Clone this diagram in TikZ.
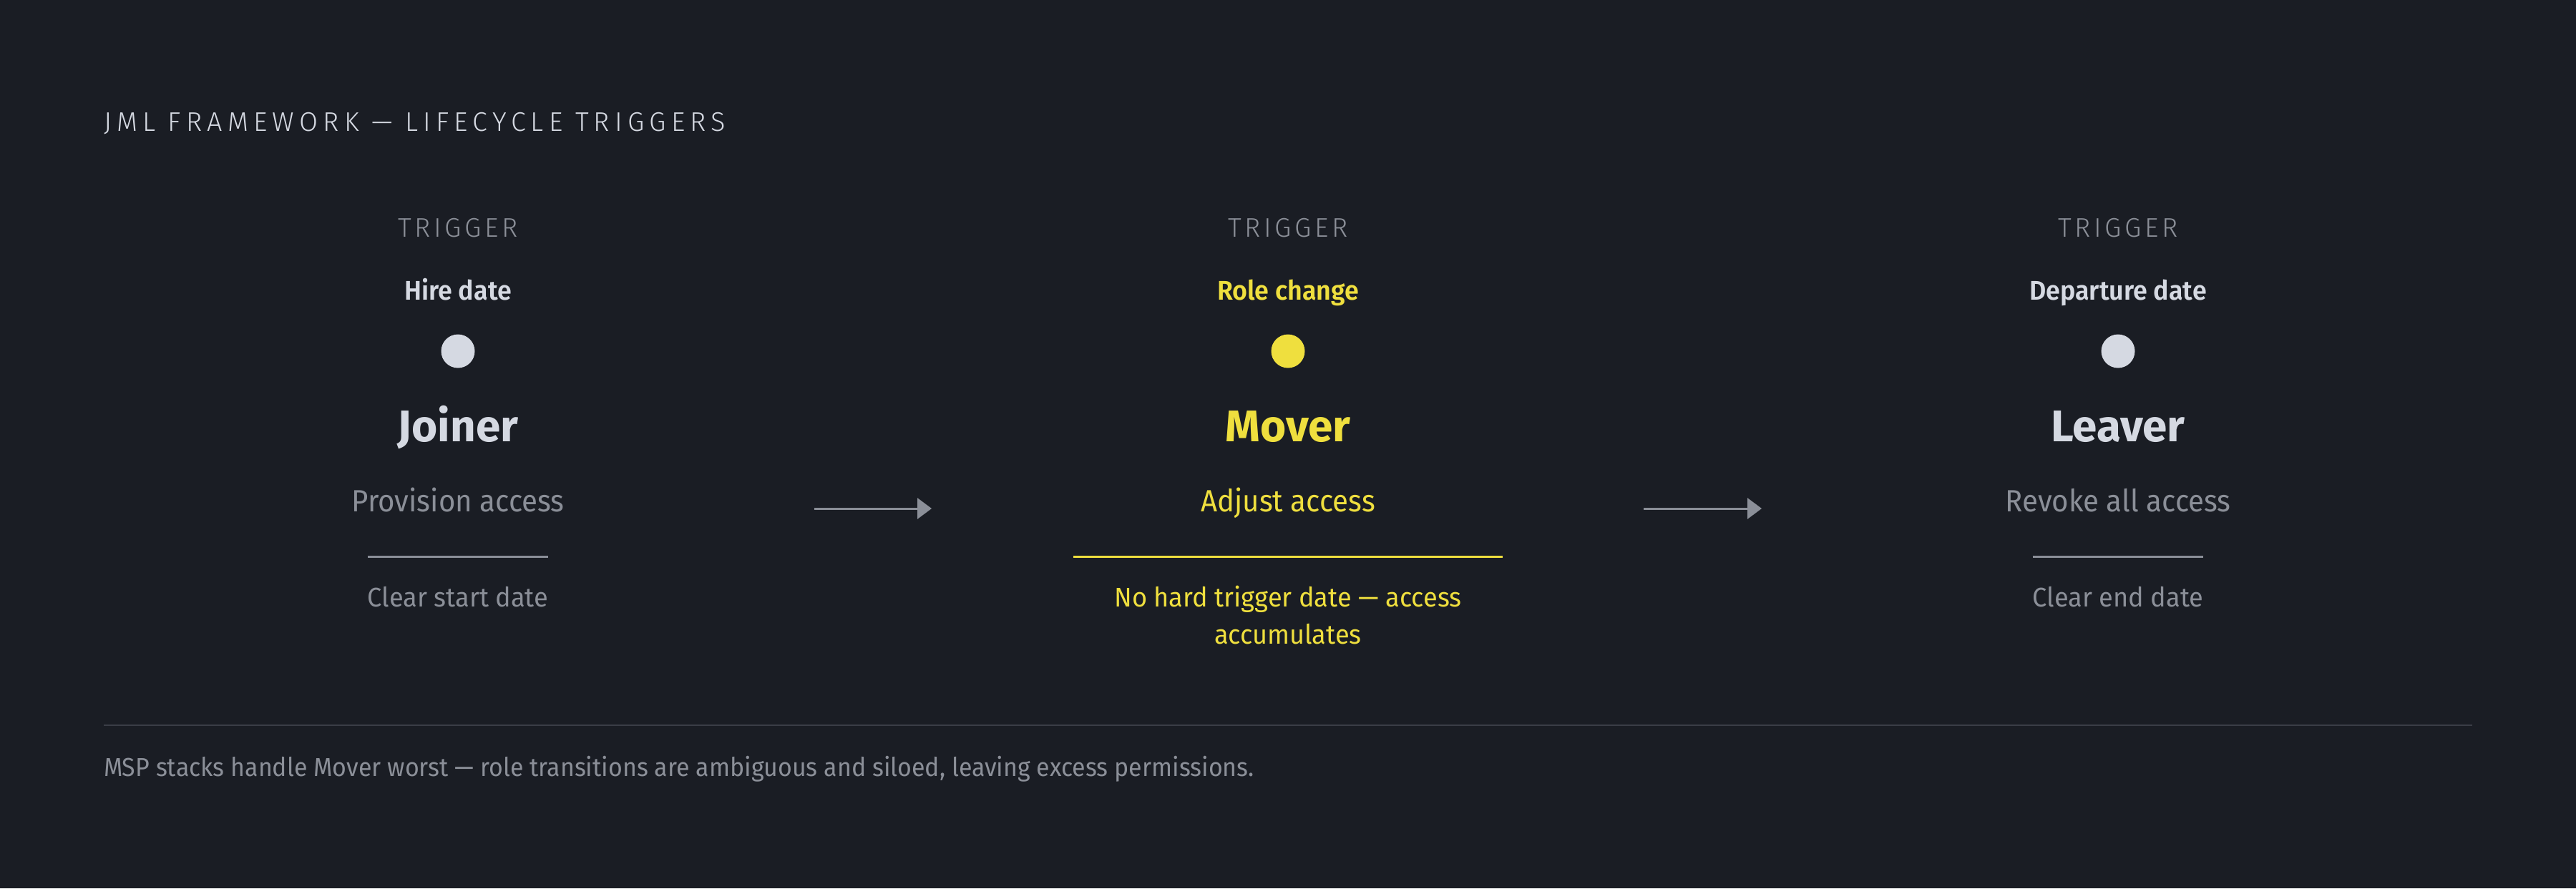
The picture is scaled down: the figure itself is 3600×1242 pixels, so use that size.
\documentclass[tikz,border=0pt]{standalone}
\usepackage{fontspec}
\usetikzlibrary{arrows.meta,calc}
\setmainfont{Fira Sans}
\newfontfamily\fTitle{Fira Sans Light}[LetterSpace=19]
\newfontfamily\fSpaced{Fira Sans Light}[LetterSpace=12]
\newfontfamily\fBook{Fira Sans}[FakeStretch=0.935]
\newfontfamily\fBot{Fira Sans}[FakeStretch=0.96]
\newfontfamily\fSemi{Fira Sans SemiBold}[FakeStretch=0.95]
\newfontfamily\fBold{Fira Sans}
\definecolor{bgc}{HTML}{1A1D24}
\definecolor{lightc}{HTML}{D5D9E2}
\definecolor{grayc}{HTML}{8B8F98}
\definecolor{yellowc}{HTML}{EFDF3E}
\definecolor{rulec}{HTML}{3A3D46}
\begin{document}
\begin{tikzpicture}[x=1pt,y=-1pt,
  every node/.style={inner sep=0pt, outer sep=0pt},
  titletext/.style={anchor=base west, text=lightc, font=\fTitle\fontsize{37.7}{40}\selectfont},
  trigtext/.style={anchor=base, text=grayc, font=\fSpaced\fontsize{37.7}{40}\selectfont},
  trigname/.style={anchor=base, font=\fSemi\fontsize{37.7}{40}\selectfont},
  stagename/.style={anchor=base, font=\fBold\bfseries\fontsize{62}{66}\selectfont},
  actiontext/.style={anchor=base, font=\fBook\fontsize{43}{46}\selectfont},
  bottext/.style={anchor=base, font=\fBot\fontsize{37.7}{52}\selectfont},
  dot/.style={circle, minimum size=47pt},
  flowarrow/.style={draw=grayc, line width=3pt, -{Triangle[length=20pt,width=29pt]}},
  sepline/.style={line width=3pt},
  foot/.style={anchor=base west, text=grayc, font=\fBook\fontsize{36.3}{40}\selectfont}
]
\fill[bgc] (0,0) rectangle (3600,1242);
\useasboundingbox (0,0) rectangle (3600,1242);
\coordinate (sepy) at (0,778);

\node[titletext] (title) at (145,183) {JML FRAMEWORK — LIFECYCLE TRIGGERS};

% Joiner
\node[trigtext] (jtrig) at (640,331) {TRIGGER};
\node[trigname, text=lightc] (jdate) at (640,419) {Hire date};
\node[dot, fill=lightc] (jdot) at (640,491) {};
\node[stagename, text=lightc] (jname) at (640,617) {Joiner};
\node[actiontext, text=grayc] (jact) at (640,715) {Provision access};
\node[bottext, text=grayc] (jbot) at (640,848) {Clear start date};
\draw[sepline, grayc] (jbot.west |- sepy) coordinate (jl1) -- (jbot.east |- sepy) coordinate (jl2);

% Mover
\node[trigtext] (mtrig) at (1800,331) {TRIGGER};
\node[trigname, text=yellowc] (mdate) at (1800,419) {Role change};
\node[dot, fill=yellowc] (mdot) at (1800,491) {};
\node[stagename, text=yellowc] (mname) at (1800,617) {Mover};
\node[actiontext, text=yellowc] (mact) at (1800,715) {Adjust access};
\node[bottext, text=yellowc] (mbot1) at (1800,848) {No hard trigger date — access};
\node[bottext, text=yellowc] (mbot2) at (1800,900) {accumulates};
\coordinate (ml1) at (1500,778);
\coordinate (ml2) at (2100,778);
\draw[sepline, yellowc] (ml1) -- (ml2);

% Leaver
\node[trigtext] (ltrig) at (2960,331) {TRIGGER};
\node[trigname, text=lightc] (ldate) at (2960,419) {Departure date};
\node[dot, fill=lightc] (ldot) at (2960,491) {};
\node[stagename, text=lightc] (lname) at (2960,617) {Leaver};
\node[actiontext, text=grayc] (lact) at (2960,715) {Revoke all access};
\node[bottext, text=grayc] (lbot) at (2960,848) {Clear end date};
\draw[sepline, grayc] (lbot.west |- sepy) coordinate (ll1) -- (lbot.east |- sepy) coordinate (ll2);

% Arrows
\coordinate (a1s) at (1138,711);
\coordinate (a1e) at (1302,711);
\coordinate (a2s) at (2297,711);
\coordinate (a2e) at (2462,711);
\draw[flowarrow] (a1s) -- (a1e);
\draw[flowarrow] (a2s) -- (a2e);

% Footer
\coordinate (r1) at (145,1014);
\coordinate (r2) at (3455,1014);
\draw[rulec, line width=2.3pt] (r1) -- (r2);
\node[foot] (footnote) at (145,1085) {MSP stacks handle Mover worst — role transitions are ambiguous and siloed, leaving excess permissions.};
\end{tikzpicture}
\end{document}
